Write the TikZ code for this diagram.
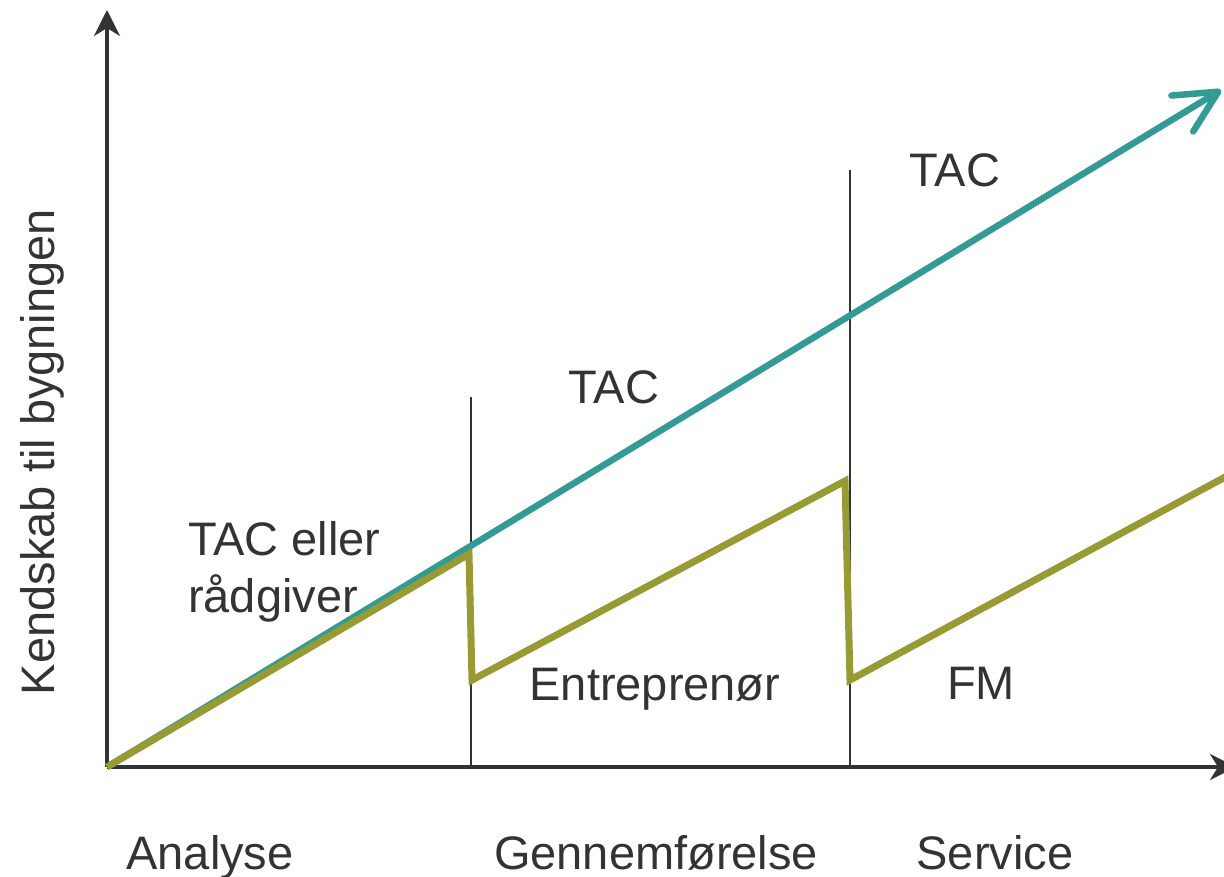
\documentclass[tikz,border=0pt]{standalone}
\usepackage{fontspec}
\setmainfont{Liberation Sans}
\usetikzlibrary{arrows.meta}
\usetikzlibrary{positioning}
\definecolor{tacteal}{RGB}{52,154,150}
\definecolor{phaseolive}{RGB}{152,154,52}
\definecolor{axisgray}{RGB}{51,51,51}

\begin{document}
\begin{tikzpicture}
			[
				x = 1pt, y = -1pt,
				mylabel/.style = {inner sep = 0pt, anchor = base, text = axisgray, font = \fontsize{47}{57}\selectfont},
				myaxis/.style = {draw = axisgray, line width = 3.5pt, -{Stealth[length = 26pt, width = 26pt, inset = 8pt]}},
				mydivider/.style = {draw = axisgray, line width = 2.5pt},
				myknowledge/.style = {draw = tacteal, line width = 6.5pt, -{Straight Barb[length = 42pt, width = 42pt, round]}},
				myowner/.style = {draw = phaseolive, line width = 7pt}
			]
			%
			\clip (0,0) rectangle (1224,877);
			%
			\coordinate (origin) at (107,767);
			\coordinate (ytop) at (107,10);
			\coordinate (xend) at (1236,767);
			\draw [myaxis] (origin) -- (ytop);
			\draw [myaxis] (origin) -- (xend);
			%
			\coordinate (div1top) at (471,397);
			\coordinate (div1bot) at (471,767);
			\coordinate (div2top) at (850,170);
			\coordinate (div2bot) at (850,767);
			\draw [mydivider] (div1top) -- (div1bot);
			\draw [mydivider] (div2top) -- (div2bot);
			%
			\coordinate (tactip) at (1221,90);
			\draw [myknowledge] (origin) -- (tactip);
			%
			\coordinate (peak1) at (469,554);
			\coordinate (drop1) at (472,680);
			\coordinate (peak2) at (845,481);
			\coordinate (drop2) at (850,680);
			\coordinate (oliveend) at (1240,469);
			\draw [myowner] (origin) -- (peak1) -- (drop1) -- (peak2) -- (drop2) -- (oliveend);
			%
			\node (tacthree) [mylabel] at (955,187) {TAC};
			\node (tactwo) [mylabel] at (614,403) {TAC};
			\node (tacone) [mylabel, anchor = base west] at (188,555) {TAC eller};
			\node (advisor) [mylabel, anchor = base west] at (188,612) {rådgiver};
			\node (contractor) [mylabel] at (655,700) {Entreprenør};
			\node (fm) [mylabel] at (981,699) {FM};
			%
			\node (analysis) [mylabel] at (210,869) {Analyse};
			\node (execution) [mylabel] at (656,869) {Gennemførelse};
			\node (service) [mylabel] at (995,869) {Service};
			%
			\node (knowledge) [mylabel, rotate = 90] at (54,452) {Kendskab til bygningen};
			%
		\end{tikzpicture}
\end{document}
